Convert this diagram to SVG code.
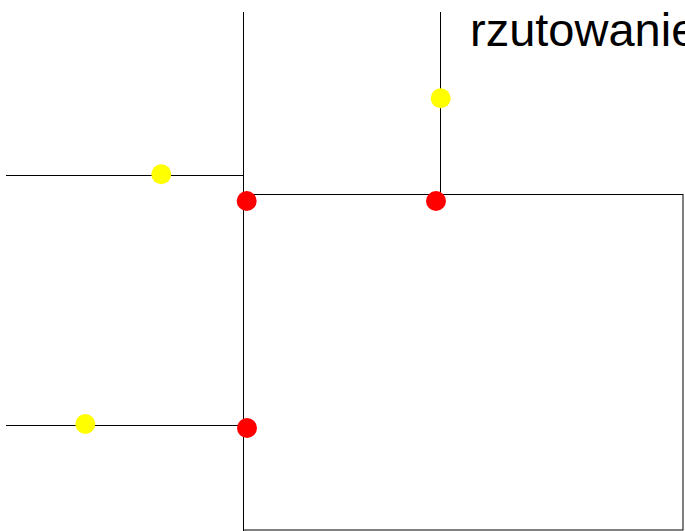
<svg xmlns="http://www.w3.org/2000/svg" width="685" height="531" viewBox="0 0 685 531">
<style>
.ln{stroke:#000;stroke-width:1;fill:none}
.red{fill:#ff0000}
.yel{fill:#ffff00}
.lbl{font-family:"Liberation Sans",Arial,sans-serif;font-size:47px;fill:#000}
</style>
<rect width="685" height="531" fill="#fff"/>
<g id="connectors">
<line class="ln" x1="243.5" y1="12" x2="243.5" y2="531"/>
<line class="ln" x1="6" y1="175.5" x2="244" y2="175.5"/>
<line class="ln" x1="6" y1="425.5" x2="244" y2="425.5"/>
<line class="ln" x1="440.5" y1="12" x2="440.5" y2="201"/>
<rect class="ln" x="243.5" y="194.5" width="439.5" height="335.5"/>
</g>
<g id="p1"><circle class="red" cx="246.7" cy="201" r="10"/></g>
<g id="p2"><circle class="red" cx="436" cy="201" r="10"/></g>
<g id="p3"><circle class="red" cx="247" cy="428" r="10"/></g>
<g id="y1"><circle class="yel" cx="440.7" cy="98.3" r="10"/></g>
<g id="y2"><circle class="yel" cx="161.3" cy="174.3" r="10"/></g>
<g id="y3"><circle class="yel" cx="85.3" cy="424" r="10"/></g>
<g id="title"><text class="lbl" x="470" y="46">rzutowanie</text></g>
</svg>
